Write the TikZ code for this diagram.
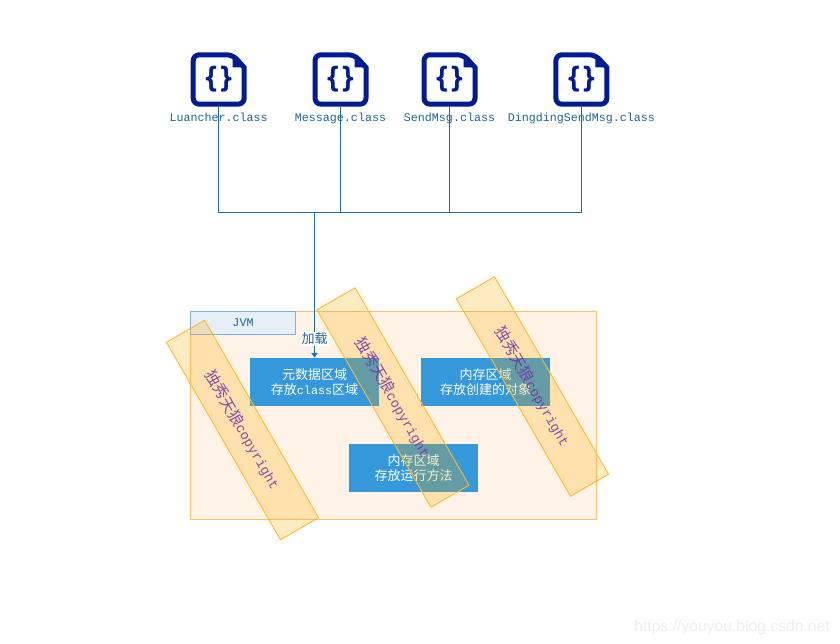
\documentclass[tikz,border=0pt]{standalone}
\usepackage{fontspec}
\setmainfont{Liberation Mono}
\newfontfamily\cjk{Noto Sans CJK SC}
\newfontfamily\iconfont{DejaVu Sans}
\newfontfamily\urlfont{Liberation Sans}
\usetikzlibrary{arrows.meta,positioning,calc}
\definecolor{linkblue}{HTML}{1A6FA5}
\definecolor{labelblue}{HTML}{1F6496}
\definecolor{iconblue}{HTML}{001C92}
\definecolor{areablue}{HTML}{3498DB}
\definecolor{stampline}{HTML}{FFB92E}
\definecolor{stampfill}{HTML}{FFAB00}
\definecolor{stamptext}{HTML}{7030A8}
\definecolor{jvmline}{HTML}{FFC070}
\definecolor{jvmfill}{HTML}{FFF2E6}
\definecolor{titleline}{HTML}{7EB2E4}
\definecolor{titlefill}{HTML}{E6EEF8}
\tikzset{>={Latex[length=5pt,width=7.5pt]},
    link/.style={draw=linkblue, line width=0.9pt},
    classicon/.style={minimum width=56pt, minimum height=54pt, inner sep=0pt, text=iconblue,
        font=\iconfont\bfseries\fontsize{28}{28}\selectfont},
    iconline/.style={draw=iconblue, line width=5pt, rounded corners=6pt},
    classlabel/.style={text=labelblue, inner sep=0pt, anchor=base, font=\fontsize{11.67}{14}\selectfont},
    areabox/.style={fill=areablue, text=white, minimum width=129pt, minimum height=48pt, inner sep=0pt,
        align=center, font=\fontsize{11.67}{15.5}\selectfont},
    stamp/.style={draw=stampline, fill=stampfill, fill opacity=0.24, text opacity=0.85, draw opacity=1,
        line width=0.9pt, minimum width=228pt, minimum height=44pt, inner sep=0pt, rotate=-60,
        text=stamptext, font=\fontsize{13.5}{16}\selectfont},
}
\begin{document}
\begin{tikzpicture}[x=1pt, y=-1pt]
    \useasboundingbox (0,0) rectangle (840,644);
    % jvm frame and its title
    \node[draw=jvmline, fill=jvmfill, line width=0.8pt, minimum width=406.5pt, minimum height=208pt, inner sep=0pt] (jvm) at (393.3,415) {};
    \node[draw=titleline, fill=titlefill, line width=0.8pt, minimum width=105.5pt, minimum height=23pt, inner sep=0pt, text=labelblue, font=\fontsize{11.67}{14}\selectfont] (title) at (243,322.5) {JVM};
    % class files
    \foreach[count=\i] \cname/\cx in {Luancher/218.7,Message/340.5,SendMsg/449.5,DingdingSendMsg/581.4} {
        \node[classicon] (icon-\i) at (\cx,79.5) {\scalebox{.8}[1]{\{\kern-1pt\}}};
        \begin{scope}[shift={(\cx,79.5)}]
            \draw[iconline] (-25.5,0) -- (-25.5,-24.7) -- (14,-24.7) [sharp corners] -- (25.5,-12) [rounded corners=6pt] -- (25.5,24.7) -- (-25.5,24.7) -- cycle;
            \fill[iconblue] (14,-24.7) -- (25.5,-12) -- (14,-12) -- cycle;
        \end{scope}
        \node[classlabel] (label-\i) at (\cx,122) {\cname.class};
    }
    % metadata, heap and stack areas
    \node[areabox] (meta) at (314.5,382) {{\cjk\fontsize{13}{15.5}\selectfont 元数据区域}\\{\cjk\fontsize{13}{15.5}\selectfont 存放}class{\cjk\fontsize{13}{15.5}\selectfont 区域}};
    \node[areabox] (heap) at (485.5,382) {\cjk\fontsize{13}{15.5}\selectfont 内存区域\\\cjk\fontsize{13}{15.5}\selectfont 存放创建的对象};
    \node[areabox] (stack) at (413.5,468) {\cjk\fontsize{13}{15.5}\selectfont 内存区域\\\cjk\fontsize{13}{15.5}\selectfont 存放运行方法};
    % wires from the class files into the bus
    \coordinate (bus) at (314.5,212);
    \foreach \i in {1,...,4} {
        \draw[link] (icon-\i.south) |- (bus);
    }
    \draw[link,->] (bus) -- (meta.north) node[pos=0.87, fill=white, inner sep=1pt, text=labelblue, font=\cjk\fontsize{13}{15}\selectfont] (load) {加载};
    % diagonal stamps
    \foreach[count=\i] \sx/\sy in {242.5/430,393/397.5,532.5/386.5} {
        \node[stamp] (stamp-\i) at (\sx,\sy) {{\cjk\fontsize{15.5}{16}\selectfont 独秀天狼}copyright};
    }
    \node[text=black!7, inner sep=0pt, anchor=east, font=\urlfont\fontsize{15.7}{17}\selectfont] (url) at (830,627) {https://youyou.blog.csdn.net};
\end{tikzpicture}
\end{document}
